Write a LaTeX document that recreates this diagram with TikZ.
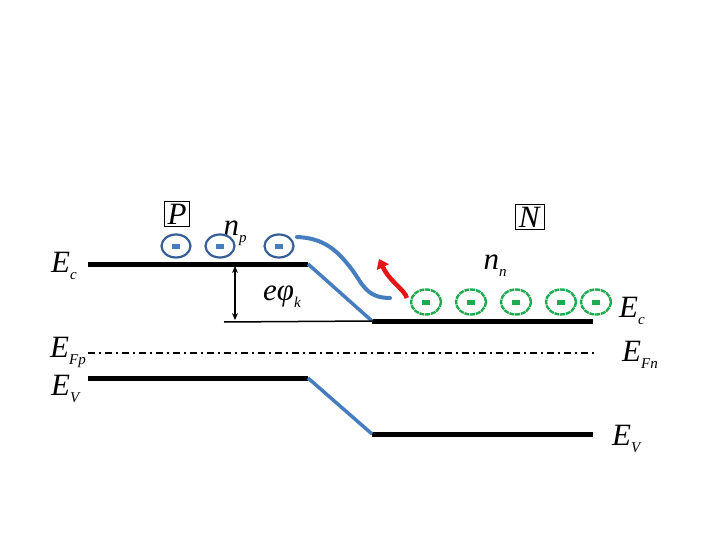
\documentclass[tikz,border=0pt]{standalone}
\usepackage{fontspec}
\setmainfont{Liberation Serif}
\usetikzlibrary{arrows.meta,shapes.geometric}
\definecolor{bandblue}{RGB}{70,125,190}
\definecolor{ringblue}{RGB}{55,95,150}
\definecolor{ringgreen}{RGB}{30,170,80}
\definecolor{arrred}{RGB}{230,20,20}
\newcommand{\lab}[2]{\textit{#1}\raisebox{-7pt}{\fontsize{15}{15}\selectfont\textit{#2}}}
\tikzset{
  band/.style={line width=5pt,black},
  slope/.style={line width=3.5pt,bandblue},
  lbl/.style={font=\fontsize{31}{34}\selectfont,inner sep=0pt},
  pel/.style={draw=ringblue,line width=2.2pt,ellipse,minimum width=29pt,minimum height=23pt,inner sep=0pt},
  nel/.style={draw=ringgreen,line width=2.4pt,dash pattern=on 5pt off 0.8pt,ellipse,minimum width=30pt,minimum height=25pt,inner sep=0pt},
}
\newcommand{\pminus}{\tikz\fill[bandblue](0,0) rectangle (8pt,5pt);}
\newcommand{\nminus}{\tikz\fill[ringgreen](0,0) rectangle (8pt,5pt);}
\begin{document}
\begin{tikzpicture}[x=1pt,y=-1pt]
\useasboundingbox (0,0) rectangle (720,540);
% coordinates
\coordinate (ecl1) at (88,264);
\coordinate (ecl2) at (308,264);
\coordinate (ecr1) at (372,321);
\coordinate (ecr2) at (593,321);
\coordinate (evl1) at (88,378);
\coordinate (evl2) at (308,378);
\coordinate (evr1) at (372,434);
\coordinate (evr2) at (593,434);
\coordinate (f1) at (88,353);
\coordinate (f2) at (596,353);
\coordinate (thin1) at (224,322);
\coordinate (ar1) at (235,266);
\coordinate (ar2) at (235,320);
% bands
\draw[band] (ecl1) -- (ecl2);
\draw[band] (ecr1) -- (ecr2);
\draw[band] (evl1) -- (evl2);
\draw[band] (evr1) -- (evr2);
\draw[slope] (ecl2) -- (ecr1);
\draw[slope] (evl2) -- (evr1);
\draw[line width=1.5pt] (thin1) -- (ecr1);
\draw[line width=1.6pt,dash pattern=on 7pt off 4pt on 2pt off 4pt] (f1) -- (f2);
\draw[line width=1.2pt,{Stealth[length=7pt,width=6pt]}-{Stealth[length=7pt,width=6pt]}] (ar1) -- (ar2);
% labels
\node[lbl] (ecL) at (64,266) {\lab{E}{c}};
\node[lbl] (ecR) at (632,311) {\lab{E}{c}};
\node[lbl] (efp) at (68,352) {\lab{E}{Fp}};
\node[lbl] (efn) at (640,355) {\lab{E}{Fn}};
\node[lbl] (evL) at (66,389) {\lab{E}{V}};
\node[lbl] (evR) at (627,439) {\lab{E}{V}};
\node[lbl] (phi) at (282,297) {\lab{eφ}{k}};
\node[lbl] (np) at (235,233) {\lab{n}{p}};
\node[lbl] (nn) at (495,266) {\lab{n}{n}};
\node[lbl,draw,line width=1pt,inner xsep=3pt,inner ysep=2pt] (P) at (177,214) {\textit{P}};
\node[lbl,draw,line width=1pt,inner xsep=3pt,inner ysep=2pt] (N) at (530,217) {\textit{N}};
% electrons
\node[pel] (p1) at (176,246) {\pminus};
\node[pel] (p2) at (220,246) {\pminus};
\node[pel] (p3) at (279,246) {\pminus};
\node[nel] (n1) at (426,302) {\nminus};
\node[nel] (n2) at (471,302) {\nminus};
\node[nel] (n3) at (516,302) {\nminus};
\node[nel] (n4) at (561,302) {\nminus};
\node[nel] (n5) at (596,302) {\nminus};
% blue curve
\draw[line width=4pt,bandblue,line cap=round] (297,237) .. controls (325,238) and (338,252) .. (350,267) .. controls (362,282) and (365,298) .. (390,298);
% red arrow
\coordinate (rtip) at (379,259);
\draw[line width=4.5pt,arrred,-{Triangle[length=9pt,width=13pt]}] (n1.west) ++(-3,-4) .. controls (405,290) and (390,282) .. (rtip);
\end{tikzpicture}
\end{document}
